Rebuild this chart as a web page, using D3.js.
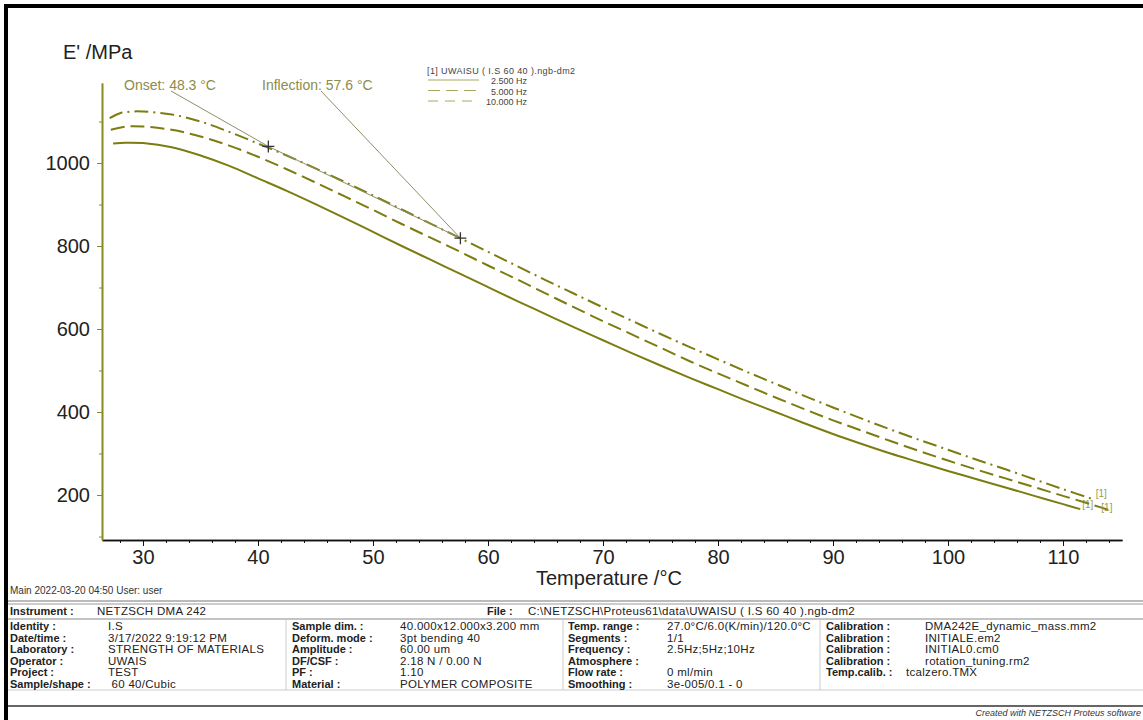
<!DOCTYPE html>
<html>
<head>
<meta charset="utf-8">
<script src="https://cdn.jsdelivr.net/npm/d3@7"></script>
<style>
  body { margin: 0; background: #fff; }
  text { font-family: "Liberation Sans", Arial, sans-serif; }
</style>
</head>
<body>
<script>
// DMA storage modulus E' vs temperature, three frequencies
let temps25 = [27.4, 28.5, 30, 32.5, 35, 37.5, 40, 42.5, 45, 47.5, 50, 52.5, 55, 57.5, 60, 62.5, 65, 67.5, 70, 72.5, 75, 77.5, 80, 82.5, 85, 87.5, 90, 92.5, 95, 97.5, 100, 102.5, 105, 107.5, 110, 111.5];
let e25 = [1047, 1049, 1048, 1038, 1018, 993, 963, 933, 901, 868, 834, 800, 767, 734, 701, 668, 636, 604, 573, 542, 512, 483, 455, 427, 400, 373, 347, 323, 300, 279, 258, 238, 218, 198, 178, 166];

let temps5 = [27.2, 28.6, 30, 32.5, 35, 37.5, 40, 42.5, 45, 47.5, 50, 52.5, 55, 57.5, 60, 62.5, 65, 67.5, 70, 72.5, 75, 77.5, 80, 82.5, 85, 87.5, 90, 92.5, 95, 97.5, 100, 102.5, 105, 107.5, 110, 112.5, 114.2];
let e5 = [1080, 1088, 1088, 1080, 1064, 1042, 1015, 985, 953, 920, 887, 853, 820, 787, 753, 720, 686, 652, 619, 587, 555, 523, 493, 464, 435, 407, 380, 355, 330, 306, 283, 261, 240, 219, 198, 177, 162];

let temps10 = [27.1, 28, 29, 30, 32.5, 35, 37.5, 40, 42.5, 45, 47.5, 50, 52.5, 55, 57.5, 60, 62.5, 65, 67.5, 70, 72.5, 75, 77.5, 80, 82.5, 85, 87.5, 90, 92.5, 95, 97.5, 100, 102.5, 105, 107.5, 110, 112.5];
let e10 = [1108, 1120, 1124, 1124, 1117, 1100, 1075, 1047, 1018, 987, 955, 922, 888, 854, 820, 786, 752, 718, 685, 652, 620, 588, 557, 527, 497, 468, 439, 411, 384, 358, 333, 309, 285, 262, 238, 214, 191];

let xTicks = [30, 40, 50, 60, 70, 80, 90, 100, 110];
let xMinor = d3.range(28, 115, 2);
let yTicks = [200, 400, 600, 800, 1000];
let yMinor = [100, 300, 500, 700, 900, 1100];

let onsetMark = [40.9, 1040];
let inflMark = [57.6, 819];

let legendNames = ["2.500 Hz", "5.000 Hz", "10.000 Hz"];

let info1 = [["Identity :", "I.S"], ["Date/time :", "3/17/2022 9:19:12 PM"], ["Laboratory :", "STRENGTH OF MATERIALS"], ["Operator :", "UWAIS"], ["Project :", "TEST"], ["Sample/shape :", " 60 40/Cubic"]];
let info2 = [["Sample dim. :", "40.000x12.000x3.200 mm"], ["Deform. mode :", "3pt bending 40"], ["Amplitude :", "60.00 um"], ["DF/CSF :", "2.18 N / 0.00 N"], ["PF :", "1.10"], ["Material :", "POLYMER COMPOSITE"]];
let info3 = [["Temp. range :", "27.0°C/6.0(K/min)/120.0°C"], ["Segments :", "1/1"], ["Frequency :", "2.5Hz;5Hz;10Hz"], ["Atmosphere :", ""], ["Flow rate :", "0 ml/min"], ["Smoothing :", "3e-005/0.1 - 0"]];
let info4 = [["Calibration :", "DMA242E_dynamic_mass.mm2"], ["Calibration :", "INITIALE.em2"], ["Calibration :", "INITIAL0.cm0"], ["Calibration :", "rotation_tuning.rm2"], ["Temp.calib. :", "tcalzero.TMX"]];

let olive = "#7c7c10";

let svg = d3.select("body").append("svg")
  .attr("width", 1143)
  .attr("height", 720);

// outer frame (left + top only, right side is cut off)
svg.append("rect").attr("x", 4).attr("y", 4).attr("width", 4).attr("height", 716).attr("fill", "#000");
svg.append("rect").attr("x", 4).attr("y", 4).attr("width", 1139).attr("height", 4).attr("fill", "#000");

let xScale = d3.scaleLinear().domain([26.435, 115.13]).range([102, 1122]);
let yScale = d3.scaleLinear().domain([91.6, 1192.8]).range([540, 83]);

// x axis
let xAxisG = svg.append("g").attr("transform", "translate(0,540)");
xAxisG.call(d3.axisBottom(xScale).tickValues(xMinor).tickSize(3).tickSizeOuter(0).tickFormat(""));
xAxisG.append("g").call(d3.axisBottom(xScale).tickValues(xTicks).tickSize(6).tickSizeOuter(0).tickPadding(4));
xAxisG.selectAll("path, line").attr("stroke", "#111");
xAxisG.selectAll("path").attr("stroke-width", 1.3);
xAxisG.selectAll("text").attr("font-size", 20).attr("fill", "#222").attr("font-family", "Liberation Sans, Arial, sans-serif");

// y axis
let yAxisG = svg.append("g").attr("transform", "translate(102,0)");
yAxisG.call(d3.axisLeft(yScale).tickValues(yMinor).tickSize(3).tickSizeOuter(0).tickFormat(""));
yAxisG.append("g").call(d3.axisLeft(yScale).tickValues(yTicks).tickSize(5).tickSizeOuter(0).tickPadding(7).tickFormat(d3.format("d")));
yAxisG.selectAll("path, line").attr("stroke", "#8a8a22");
yAxisG.selectAll("path").attr("stroke-width", 1.6);
yAxisG.selectAll("text").attr("font-size", 20).attr("fill", "#222").attr("font-family", "Liberation Sans, Arial, sans-serif");

svg.append("text").attr("x", 63).attr("y", 59).attr("font-size", 20).attr("fill", "#222").text("E' /MPa");
svg.append("text").attr("x", 536).attr("y", 585).attr("font-size", 20).attr("fill", "#222").text("Temperature /°C");

// curves
let line = d3.line()
  .x(function(d) { return xScale(d[0]); })
  .y(function(d) { return yScale(d[1]); })
  .curve(d3.curveCatmullRom);

let series = [
  { t: temps25, e: e25, dash: null, lx: 2, ly: -1 },
  { t: temps5, e: e5, dash: "14,6", lx: -10, ly: 0 },
  { t: temps10, e: e10, dash: "14,5,2,5", lx: 4, ly: -2 }
];

series.forEach(function(s) {
  let pts = s.t.map(function(t, i) { return [t, s.e[i]]; });
  svg.append("path")
    .datum(pts)
    .attr("d", line)
    .attr("fill", "none")
    .attr("stroke", olive)
    .attr("stroke-width", 2)
    .attr("stroke-dasharray", s.dash);
  let last = pts[pts.length - 1];
  svg.append("text")
    .attr("x", xScale(last[0]) + s.lx)
    .attr("y", yScale(last[1]) + s.ly)
    .attr("font-size", 10)
    .attr("fill", "#9a9a50")
    .text("[1]");
});

// onset / inflection tangent and pointers
let pointerColor = "#8e8e6a";
svg.append("line")
  .attr("x1", xScale(onsetMark[0])).attr("y1", yScale(onsetMark[1]))
  .attr("x2", xScale(inflMark[0])).attr("y2", yScale(inflMark[1]))
  .attr("stroke", pointerColor).attr("stroke-width", 1);
svg.append("line")
  .attr("x1", 171).attr("y1", 91)
  .attr("x2", xScale(onsetMark[0])).attr("y2", yScale(onsetMark[1]))
  .attr("stroke", pointerColor).attr("stroke-width", 1);
svg.append("line")
  .attr("x1", 321).attr("y1", 91)
  .attr("x2", xScale(inflMark[0])).attr("y2", yScale(inflMark[1]))
  .attr("stroke", pointerColor).attr("stroke-width", 1);

[onsetMark, inflMark].forEach(function(m) {
  let cx = xScale(m[0]), cy = yScale(m[1]);
  svg.append("path")
    .attr("d", "M" + (cx - 6) + "," + cy + "H" + (cx + 6) + "M" + cx + "," + (cy - 6) + "V" + (cy + 6))
    .attr("stroke", "#333").attr("stroke-width", 1.3);
});

svg.append("text").attr("x", 124).attr("y", 90).attr("font-size", 14).attr("fill", "#8c8c4a").text("Onset: 48.3 °C");
svg.append("text").attr("x", 262).attr("y", 90).attr("font-size", 14).attr("fill", "#8c8c4a").text("Inflection: 57.6 °C");

// legend
svg.append("text").attr("x", 427).attr("y", 74).attr("font-size", 9).attr("letter-spacing", 0.4).attr("fill", "#444")
  .text("[1] UWAISU ( I.S 60 40 ).ngb-dm2");
let legDash = [null, "12,6", "10,7"];
legendNames.forEach(function(name, i) {
  let ly = 80 + i * 10.5;
  svg.append("line").attr("x1", 428).attr("x2", 479).attr("y1", ly).attr("y2", ly)
    .attr("stroke", "#a8a860").attr("stroke-width", 1)
    .attr("stroke-dasharray", legDash[i]);
  svg.append("text").attr("x", 527).attr("y", ly + 4).attr("text-anchor", "end")
    .attr("font-size", 9).attr("fill", "#444").text(name);
});

// footer
svg.append("text").attr("x", 10).attr("y", 594).attr("font-size", 10).attr("fill", "#333")
  .text("Main  2022-03-20 04:50    User: user");

let tbl = svg.append("g").attr("fill", "#222");
tbl.append("line").attr("x1", 8).attr("x2", 1143).attr("y1", 601).attr("y2", 601).attr("stroke", "#777");
tbl.append("line").attr("x1", 8).attr("x2", 1143).attr("y1", 604).attr("y2", 604).attr("stroke", "#999");
tbl.append("line").attr("x1", 8).attr("x2", 1143).attr("y1", 619).attr("y2", 619).attr("stroke", "#888");
tbl.append("line").attr("x1", 8).attr("x2", 1143).attr("y1", 690).attr("y2", 690).attr("stroke", "#ccc");
tbl.append("line").attr("x1", 8).attr("x2", 1143).attr("y1", 706).attr("y2", 706).attr("stroke", "#333").attr("stroke-width", 1.5);
[286, 563, 820].forEach(function(vx) {
  tbl.append("line").attr("x1", vx).attr("x2", vx).attr("y1", 619).attr("y2", 690).attr("stroke", "#ccc");
});

function label(x, y, s) {
  tbl.append("text").attr("x", x).attr("y", y).attr("font-size", 11).attr("font-weight", "bold").text(s);
}
function value(x, y, s) {
  tbl.append("text").attr("x", x).attr("y", y).attr("font-size", 11.5).attr("letter-spacing", 0.3).attr("xml:space", "preserve").text(s);
}

label(10, 615, "Instrument :");
value(97, 615, "NETZSCH DMA 242");
label(487, 615, "File :");
value(528, 615, "C:\\NETZSCH\\Proteus61\\data\\UWAISU ( I.S 60 40 ).ngb-dm2");

let cols = [
  { rows: info1, lx: 10, vx: 108 },
  { rows: info2, lx: 292, vx: 400 },
  { rows: info3, lx: 568, vx: 667 },
  { rows: info4, lx: 826, vx: 925 }
];
cols.forEach(function(c) {
  c.rows.forEach(function(r, i) {
    let ry = 630 + i * 11.6;
    label(c.lx, ry, r[0]);
    value(r[0] === "Temp.calib. :" ? 906 : c.vx, ry, r[1]);
  });
});

svg.append("text").attr("x", 1141).attr("y", 716).attr("text-anchor", "end").attr("font-size", 9)
  .attr("font-style", "italic").attr("fill", "#333").text("Created with NETZSCH Proteus software");
</script>
</body>
</html>
